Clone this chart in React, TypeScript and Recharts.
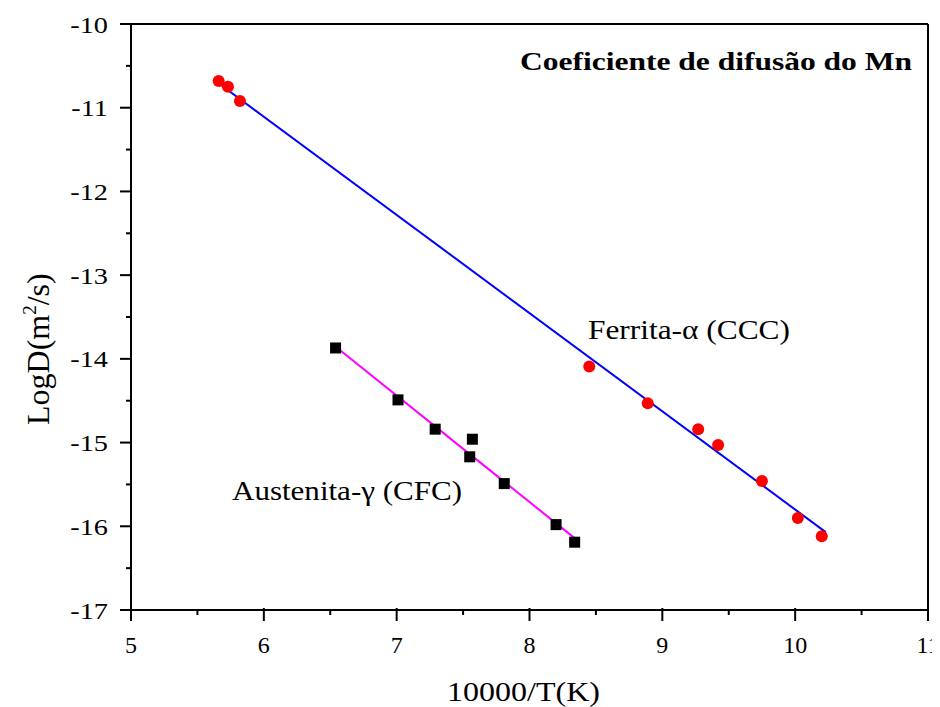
import React from "react";
import { ScatterChart, Scatter, XAxis, YAxis, ReferenceLine, Customized } from "recharts";

const ferritaX = [5.66, 5.73, 5.82, 8.45, 8.89, 9.27, 9.42, 9.75, 10.02, 10.2];
const ferritaY = [-10.68, -10.75, -10.92, -14.09, -14.53, -14.84, -15.03, -15.46, -15.9, -16.12];
const austenitaX = [6.54, 7.01, 7.29, 7.57, 7.55, 7.81, 8.2, 8.34];
const austenitaY = [-13.87, -14.49, -14.84, -14.96, -15.17, -15.49, -15.98, -16.19];
const ferritaFitX = [5.67, 10.23];
const ferritaFitY = [-10.72, -16.07];
const austenitaFitX = [6.56, 8.37];
const austenitaFitY = [-13.88, -16.18];
const xTicks = [5, 5.5, 6, 6.5, 7, 7.5, 8, 8.5, 9, 9.5, 10, 10.5, 11];
const yTicks = [-17, -16.5, -16, -15.5, -15, -14.5, -14, -13.5, -13, -12.5, -12, -11.5, -11, -10.5, -10];

const zip = (xs: number[], ys: number[]) => xs.map((x, i) => ({ x, y: ys[i] }));
const ferrita = zip(ferritaX, ferritaY);
const austenita = zip(austenitaX, austenitaY);
const ferritaFit = zip(ferritaFitX, ferritaFitY);
const austenitaFit = zip(austenitaFitX, austenitaFitY);

const FONT = "'Liberation Serif', 'Times New Roman', serif";

const XTick = (props: any) => {
  const { x, y, payload } = props;
  const v = payload.value;
  const major = Number.isInteger(v);
  return (
    <g>
      <line x1={x} y1={y - (major ? 2 : 0)} x2={x} y2={y + (major ? 11 : 5)} stroke="#000" strokeWidth={2} />
      {major && (
        <text x={x} y={y + 43} textAnchor="middle" fontFamily={FONT} fontSize={24} fill="#000">
          {v}
        </text>
      )}
    </g>
  );
};

const YTick = (props: any) => {
  const { x, y, payload } = props;
  const v = payload.value;
  const major = Number.isInteger(v);
  return (
    <g>
      <line x1={x} y1={y} x2={x - (major ? 11 : 5)} y2={y} stroke="#000" strokeWidth={2} />
      {major && (
        <g transform={`translate(${x - 23},${y + 8.5}) scale(1.18,1)`}>
          <text x={0} y={0} textAnchor="end" fontFamily={FONT} fontSize={24} fill="#000">
            {v}
          </text>
        </g>
      )}
    </g>
  );
};

const Circle = (props: any) => <circle cx={props.cx} cy={props.cy} r={6} fill="#ff0000" />;
const Square = (props: any) => (
  <rect x={props.cx - 5.5} y={props.cy - 5.5} width={11} height={11} fill="#000" />
);
const NoShape = () => <g />;

const Labels = () => (
  <g fontFamily={FONT} fill="#000">
    <text x={512} y={62} fontSize={26} fontWeight="bold" textLength={392} lengthAdjust="spacingAndGlyphs">
      Coeficiente de difusão do Mn
    </text>
    <text x={580} y={331} fontSize={28} textLength={202} lengthAdjust="spacingAndGlyphs">
      Ferrita-α (CCC)
    </text>
    <text x={224} y={492} fontSize={28} textLength={230} lengthAdjust="spacingAndGlyphs">
      Austenita-γ (CFC)
    </text>
    <text x={439} y={693} fontSize={28} textLength={153} lengthAdjust="spacingAndGlyphs">
      10000/T(K)
    </text>
    <text x={41} y={417} textAnchor="start" fontSize={32} transform="rotate(-90 41 417)">
      LogD(m
      <tspan fontSize={19} dy={-13}>2</tspan>
      <tspan dy={13}>/s)</tspan>
    </text>
  </g>
);

export default function App() {
  return (
    <div style={{ width: 932, height: 699 }}>
      <style>{"html, body { overflow: hidden; margin-bottom: 0; } svg.recharts-surface { overflow: visible; }"}</style>
      <ScatterChart
        width={932}
        height={699}
        margin={{ top: 16, right: 12, bottom: 7, left: 0 }}
        style={{ background: "#fff" }}
      >
        <XAxis
          dataKey="x"
          type="number"
          domain={[5, 11]}
          ticks={xTicks}
          interval={0}
          tickSize={0}
          tickMargin={0}
          tickLine={false}
          tick={<XTick />}
          height={90}
          axisLine={{ stroke: "#000", strokeWidth: 2 }}
          allowDataOverflow
        />
        <YAxis
          dataKey="y"
          type="number"
          domain={[-17, -10]}
          ticks={yTicks}
          interval={0}
          tickSize={0}
          tickMargin={0}
          tickLine={false}
          tick={<YTick />}
          width={123}
          axisLine={{ stroke: "#000", strokeWidth: 2 }}
          allowDataOverflow
        />
        <ReferenceLine y={-10} stroke="#000" strokeWidth={2} />
        <ReferenceLine x={11} stroke="#000" strokeWidth={2} />
        <Scatter data={ferritaFit} line={{ stroke: "#0000ff", strokeWidth: 2 }} shape={<NoShape />} isAnimationActive={false} />
        <Scatter data={austenitaFit} line={{ stroke: "#ff00ff", strokeWidth: 2 }} shape={<NoShape />} isAnimationActive={false} />
        <Scatter data={ferrita} shape={<Circle />} isAnimationActive={false} />
        <Scatter data={austenita} shape={<Square />} isAnimationActive={false} />
        <Customized component={<Labels />} />
      </ScatterChart>
    </div>
  );
}
